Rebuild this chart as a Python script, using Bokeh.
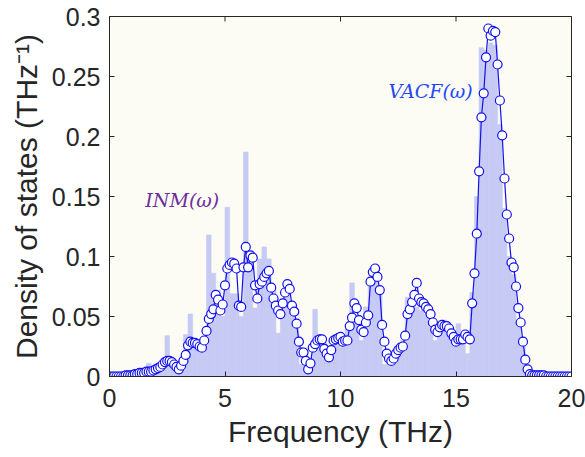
import math

from bokeh.plotting import figure
from bokeh.models import Range1d, FixedTicker, Label
from bokeh.embed import file_html
from bokeh.resources import INLINE

# VACF density of states, one point every 0.1 THz from 0 to 20 THz
vacf = [
    0.000, 0.000, 0.000, 0.000, 0.000, 0.000, 0.000, 0.001, 0.001, 0.001,   # 0.0 - 0.9
    0.001, 0.002, 0.002, 0.003, 0.003, 0.003, 0.004, 0.004, 0.004, 0.005,   # 1.0 - 1.9
    0.006, 0.007, 0.008, 0.010, 0.012, 0.013, 0.013, 0.012, 0.010, 0.008,   # 2.0 - 2.9
    0.006, 0.009, 0.013, 0.018, 0.026, 0.029, 0.028, 0.028, 0.027, 0.025,   # 3.0 - 3.9
    0.024, 0.030, 0.038, 0.048, 0.052, 0.056, 0.068, 0.064, 0.055, 0.060,   # 4.0 - 4.9
    0.076, 0.090, 0.093, 0.095, 0.094, 0.090, 0.059, 0.058, 0.091, 0.108,   # 5.0 - 5.9
    0.091, 0.101, 0.099, 0.076, 0.065, 0.077, 0.079, 0.083, 0.086, 0.088,   # 6.0 - 6.9
    0.074, 0.065, 0.059, 0.055, 0.052, 0.061, 0.070, 0.077, 0.073, 0.059,   # 7.0 - 7.9
    0.054, 0.044, 0.029, 0.020, 0.020, 0.013, 0.006, 0.011, 0.024, 0.027,   # 8.0 - 8.9
    0.030, 0.031, 0.031, 0.023, 0.019, 0.016, 0.022, 0.030, 0.031, 0.032,   # 9.0 - 9.9
    0.033, 0.029, 0.030, 0.030, 0.042, 0.049, 0.061, 0.057, 0.047, 0.039,   # 10.0 - 10.9
    0.037, 0.045, 0.051, 0.079, 0.087, 0.090, 0.083, 0.072, 0.043, 0.029,   # 11.0 - 11.9
    0.019, 0.015, 0.013, 0.015, 0.019, 0.022, 0.024, 0.025, 0.034, 0.052,   # 12.0 - 12.9
    0.056, 0.062, 0.068, 0.078, 0.065, 0.062, 0.061, 0.058, 0.056, 0.052,   # 13.0 - 13.9
    0.045, 0.039, 0.037, 0.041, 0.043, 0.042, 0.042, 0.040, 0.036, 0.033,   # 14.0 - 14.9
    0.029, 0.031, 0.031, 0.031, 0.035, 0.033, 0.031, 0.061, 0.086, 0.119,   # 15.0 - 15.9
    0.171, 0.216, 0.236, 0.266, 0.290, 0.284, 0.288, 0.287, 0.260, 0.230,   # 16.0 - 16.9
    0.201, 0.165, 0.135, 0.115, 0.095, 0.091, 0.075, 0.057, 0.045, 0.029,   # 17.0 - 17.9
    0.014, 0.006, 0.002, 0.001, 0.001, 0.001, 0.001, 0.001, 0.001, 0.000,   # 18.0 - 18.9
    0.000, 0.000, 0.000, 0.000, 0.000, 0.000, 0.000, 0.000, 0.000, 0.000,   # 19.0 - 19.9
    0.000,                                                                  # 20.0
]
freq = [round(0.1 * i, 1) for i in range(len(vacf))]

# INM histogram, bins of 0.2 THz
inm = [
    0.000, 0.000, 0.000, 0.001, 0.001, 0.002, 0.004, 0.005, 0.011, 0.006,   # 0 - 2
    0.008, 0.014, 0.034, 0.012, 0.010, 0.012, 0.035, 0.052, 0.030, 0.026,   # 2 - 4
    0.030, 0.118, 0.086, 0.072, 0.050, 0.141, 0.069, 0.069, 0.050, 0.187,   # 4 - 6
    0.100, 0.057, 0.098, 0.108, 0.098, 0.072, 0.036, 0.060, 0.070, 0.058,   # 6 - 8
    0.045, 0.010, 0.015, 0.008, 0.056, 0.030, 0.028, 0.024, 0.030, 0.028,   # 8 - 10
    0.030, 0.040, 0.078, 0.050, 0.030, 0.058, 0.080, 0.085, 0.075, 0.010,   # 10 - 12
    0.012, 0.018, 0.022, 0.030, 0.066, 0.062, 0.058, 0.055, 0.052, 0.045,   # 12 - 14
    0.030, 0.040, 0.047, 0.040, 0.030, 0.044, 0.036, 0.019, 0.070, 0.150,   # 14 - 16
    0.274, 0.272, 0.278, 0.276, 0.210, 0.140, 0.100, 0.085, 0.045, 0.030,   # 16 - 18
    0.005, 0.001, 0.000, 0.000, 0.000, 0.000, 0.000, 0.000, 0.000, 0.000,   # 18 - 20
]
bin_width = 0.2
bin_centers = [round(bin_width * (i + 0.5), 2) for i in range(len(inm))]

x_ticks = [0, 5, 10, 15, 20]
y_ticks = [0, 0.05, 0.1, 0.15, 0.2, 0.25, 0.3]
y_tick_labels = ["0", "0.05", "0.1", "0.15", "0.2", "0.25", "0.3"]

axis_color = "#262626"
line_color = "#1010F0"
bar_color = "#C6CAF4"

p = figure(
    width=585, height=457,
    x_range=Range1d(0, 20), y_range=Range1d(0, 0.3),
    output_backend="svg", toolbar_location=None,
    min_border_left=109, min_border_right=14, min_border_top=16, min_border_bottom=81,
)
p.background_fill_color = "#FCFCF4"
p.border_fill_color = "white"
p.outline_line_color = axis_color
p.grid.visible = False

# histogram bars behind (thin outline of same colour closes the svg seams)
p.vbar(x=bin_centers, width=bin_width, top=inm, fill_color=bar_color,
       line_color=bar_color, line_width=0.6)

# VACF line with open circles
p.line(freq, vacf, line_color=line_color, line_width=1.2)
p.scatter(freq, vacf, size=9, fill_color="white", line_color=line_color, line_width=1.2)

# inward ticks on the top and right edges (box on); outer half is clipped by the frame
p.scatter(x_ticks, [0.3] * len(x_ticks), marker="dash", size=10, angle=math.pi / 2,
          line_color=axis_color, line_width=1)
p.scatter([20] * len(y_ticks), y_ticks, marker="dash", size=10,
          line_color=axis_color, line_width=1)

p.xaxis.ticker = FixedTicker(ticks=x_ticks)
p.yaxis.ticker = FixedTicker(ticks=y_ticks)
p.yaxis.major_label_overrides = dict(zip(y_ticks, y_tick_labels))
p.xaxis.axis_label = "Frequency (THz)"
p.yaxis.axis_label = "Density of states (THz\u207b\u00b9)"

for ax in [p.xaxis[0], p.yaxis[0]]:
    ax.axis_line_color = axis_color
    ax.major_tick_line_color = axis_color
    ax.major_tick_in = 5
    ax.major_tick_out = 0
    ax.minor_tick_in = 0
    ax.minor_tick_out = 0
    ax.major_label_text_font = "Liberation Sans"
    ax.major_label_text_font_size = "25px"
    ax.major_label_text_color = axis_color
    ax.axis_label_text_font = "Liberation Sans"
    ax.axis_label_text_font_size = "30px"
    ax.axis_label_text_font_style = "normal"
    ax.axis_label_text_color = axis_color

p.xaxis.major_label_standoff = 12
p.xaxis.axis_label_standoff = 5
p.yaxis.major_label_standoff = 9
p.yaxis.axis_label_standoff = 6

p.add_layout(Label(x=1.55, y=0.147, text="INM(\u03c9)", text_font="DejaVu Serif",
                   text_font_style="italic", text_font_size="19px",
                   text_color="#6E2C9E", text_baseline="middle"))
p.add_layout(Label(x=12.08, y=0.238, text="VACF(\u03c9)", text_font="DejaVu Serif",
                   text_font_style="italic", text_font_size="19px",
                   text_color="#1F48F5", text_baseline="middle"))

open("out.html", "w").write(file_html(p, INLINE))
